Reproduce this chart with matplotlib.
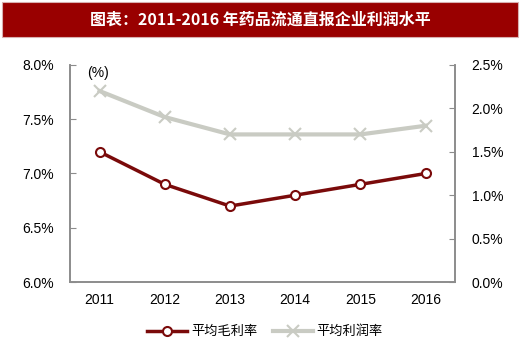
import matplotlib
matplotlib.use('Agg')
import matplotlib.pyplot as plt
from matplotlib.patches import Rectangle
from matplotlib.ticker import FuncFormatter

plt.rcParams['font.family'] = ['Liberation Sans', 'Noto Sans CJK SC', 'DejaVu Sans']

years = ['2011', '2012', '2013', '2014', '2015', '2016']
gross_margin = [7.2, 6.9, 6.7, 6.8, 6.9, 7.0]    # 平均毛利率, left axis
profit_margin = [2.2, 1.9, 1.7, 1.7, 1.7, 1.8]   # 平均利润率, right axis

red = '#7a0a0a'
gray = '#c9cbc3'
axis_gray = '#8c8c8c'

fig = plt.figure(figsize=(5.2, 3.53), dpi=100)

# title band
fig.patches.append(Rectangle((0.004, 0.895), 0.992, 0.1, transform=fig.transFigure,
                             facecolor='#990000', edgecolor='#d9b0b0', linewidth=0.8))
fig.text(0.5, 0.945, '图表：2011-2016 年药品流通直报企业利润水平', ha='center', va='center',
         color='white', fontsize=11.5, fontweight='bold',
         family=['Noto Sans CJK SC', 'DejaVu Sans'])

ax = fig.add_axes([0.135, 0.201, 0.74, 0.615])
ax2 = ax.twinx()

x = list(range(len(years)))
ax2.plot(x, profit_margin, color=gray, lw=3, marker='x', ms=8, mew=1.5,
         label='平均利润率', zorder=2)
ax.plot(x, gross_margin, color=red, lw=2.5, marker='o', ms=6.5, mfc='white',
        mec=red, mew=1.5, label='平均毛利率', zorder=3)

ax.set_zorder(ax2.get_zorder() + 1)
ax.patch.set_visible(False)

ax.set_xlim(-0.45, 5.45)
ax.set_ylim(6.0, 8.0)
ax2.set_ylim(0, 2.5)
ax.set_yticks([6.0, 6.5, 7.0, 7.5, 8.0])
ax2.set_yticks([0, 0.5, 1.0, 1.5, 2.0, 2.5])
ax.yaxis.set_major_formatter(FuncFormatter(lambda v, p: f'{v:.1f}%'))
ax2.yaxis.set_major_formatter(FuncFormatter(lambda v, p: f'{v:.1f}%'))
ax.set_xticks(x)
ax.set_xticklabels(years)

for a in (ax, ax2):
    a.spines['top'].set_visible(False)
    for s in ('left', 'right', 'bottom'):
        a.spines[s].set_color(axis_gray)
        a.spines[s].set_linewidth(1.2)
    a.tick_params(axis='y', direction='in', length=4, color=axis_gray, labelsize=10, pad=12)
ax.tick_params(axis='x', length=0, labelsize=10, pad=8)

ax.text(-0.03, 7.93, '(%)', fontsize=10, ha='center', va='center')

h1, l1 = ax.get_legend_handles_labels()
h2, l2 = ax2.get_legend_handles_labels()
fig.legend(h1 + h2, l1 + l2, loc='center', bbox_to_anchor=(0.51, 0.06), ncol=2,
           frameon=False, handlelength=3.0, handletextpad=0.3, columnspacing=1.2,
           prop={'family': ['Noto Sans CJK SC', 'DejaVu Sans'], 'size': 9.5})

fig.savefig('out.png', dpi=100)
